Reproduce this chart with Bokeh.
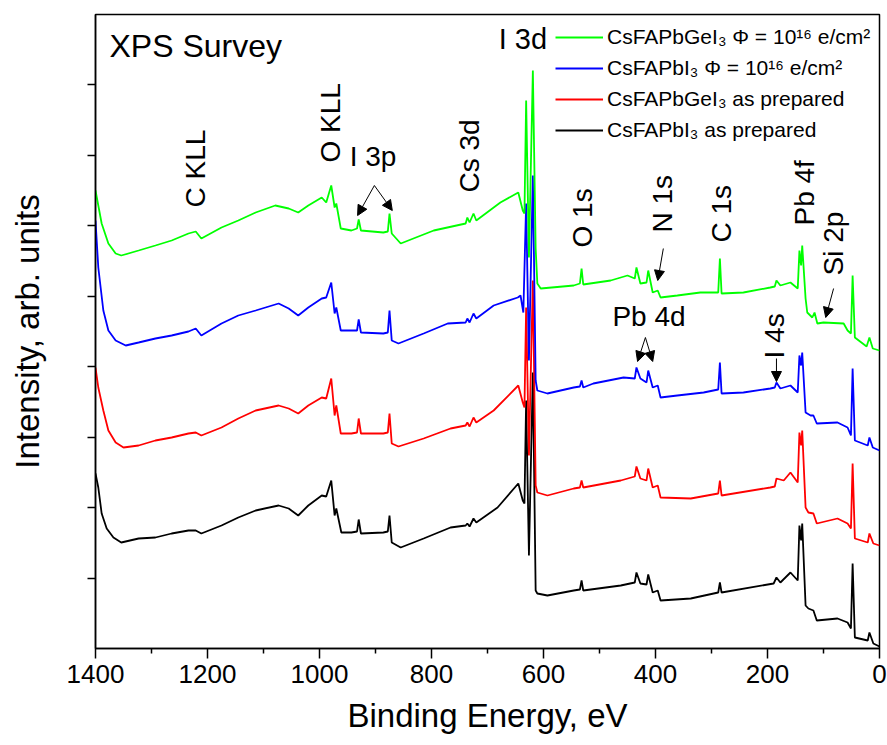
from bokeh.plotting import figure
from bokeh.models import Range1d, FixedTicker, Label, Arrow, NormalHead, Legend, LegendItem
from bokeh.embed import file_html
from bokeh.resources import INLINE

# ---------------- data ----------------
# binding energy (eV) / intensity (arb. units, vertically offset spectra)
be_green = [1400, 1389, 1377, 1364, 1354, 1323, 1293, 1264, 1234, 1221, 1211, 1175, 1145, 1114, 1079,
            1055, 1038, 1020, 996, 988, 979, 973, 970, 962, 943, 933, 930, 926, 886, 878, 875, 871, 855,
            796, 739, 736, 732, 725, 720, 677, 645, 637, 634, 631, 626, 619, 614, 611, 605, 546, 535,
            532, 529, 480, 450, 437, 434, 427, 416, 413, 405, 396, 391, 361, 320, 288, 285, 282, 243,
            195, 187, 184, 177, 159, 146, 143, 140, 138, 132, 129, 120, 116, 111, 100, 64, 57, 51, 48,
            44, 23, 18, 12, 0]
int_green = [458, 425, 405, 395, 393, 398, 403, 408, 415, 417, 410, 421, 428, 436, 443,
             440, 436, 443, 451, 446, 463, 441, 445, 420, 418, 420, 429, 418, 416, 417, 435, 415, 405,
             418, 425, 431, 426, 435, 428, 446, 456, 438, 435, 548, 391, 578, 400, 365, 360, 363, 365,
             380, 364, 368, 373, 370, 381, 365, 366, 378, 356, 358, 351, 353, 356, 356, 390, 355, 356,
             361, 362, 368, 363, 366, 360, 398, 383, 403, 350, 336, 331, 336, 325, 326, 325, 318, 315, 373,
             311, 302, 311, 300, 298]

be_blue = [1400, 1395, 1386, 1377, 1364, 1346, 1323, 1293, 1264, 1234, 1221, 1211, 1175, 1145, 1114,
           1073, 1055, 1038, 1020, 996, 988, 979, 973, 970, 962, 943, 933, 930, 926, 886, 878, 875, 871,
           859, 814, 771, 739, 736, 732, 725, 720, 689, 646, 641, 636, 631, 626, 619, 614, 611, 593, 546,
           535, 532, 529, 511, 457, 437, 434, 427, 416, 413, 405, 396, 391, 361, 314, 288, 285, 282, 243,
           195, 187, 184, 177, 159, 146, 143, 140, 138, 132, 123, 118, 112, 75, 57, 51, 48, 44, 21, 18,
           12, 0]
int_blue = [428, 381, 338, 318, 308, 303, 306, 310, 313, 317, 320, 313, 325, 333, 338,
            345, 340, 333, 341, 350, 351, 366, 335, 341, 318, 318, 318, 329, 316, 315, 316, 338, 308,
            305, 315, 325, 326, 330, 326, 335, 330, 343, 351, 353, 336, 445, 288, 473, 268, 258, 255, 261,
            262, 268, 261, 265, 271, 270, 281, 270, 266, 278, 261, 263, 251, 253, 256, 259, 286, 255, 256,
            260, 261, 266, 260, 263, 256, 293, 283, 296, 236, 233, 233, 225, 226, 221, 213, 280, 208, 203, 211,
            201, 198]

be_red = [1400, 1395, 1386, 1377, 1364, 1350, 1323, 1293, 1264, 1234, 1221, 1211, 1175, 1145, 1114,
          1073, 1055, 1038, 1020, 996, 988, 979, 973, 970, 962, 943, 933, 930, 926, 886, 878, 875, 871,
          859, 814, 766, 739, 736, 732, 725, 720, 689, 645, 637, 634, 631, 626, 619, 614, 611, 593, 546,
          535, 532, 529, 462, 437, 434, 427, 416, 413, 405, 396, 391, 337, 288, 285, 282, 195, 187, 184,
          171, 159, 146, 143, 140, 138, 132, 127, 118, 112, 75, 57, 51, 48, 44, 21, 18, 11, 0]
int_red = [281, 261, 238, 218, 206, 201, 203, 208, 211, 215, 216, 213, 221, 230, 238,
           243, 240, 235, 243, 251, 250, 270, 233, 243, 215, 215, 216, 230, 215, 215, 216, 235, 205,
           202, 210, 220, 223, 226, 222, 231, 226, 238, 263, 246, 241, 341, 193, 368, 163, 156, 153, 160,
           161, 168, 161, 168, 172, 182, 170, 168, 180, 161, 163, 151, 150, 155, 168, 153, 161, 162, 170,
           168, 176, 166, 216, 203, 218, 141, 136, 135, 125, 130, 125, 120, 185, 110, 106, 115, 105, 103]

be_black = [1400, 1395, 1389, 1380, 1368, 1354, 1323, 1293, 1264, 1234, 1221, 1211, 1175, 1145, 1114,
            1073, 1055, 1038, 1020, 996, 988, 979, 973, 970, 961, 943, 933, 930, 926, 886, 878, 875, 871,
            855, 814, 766, 739, 736, 732, 725, 720, 682, 645, 637, 634, 631, 626, 619, 614, 611, 593, 546,
            535, 532, 529, 462, 437, 434, 427, 416, 413, 405, 396, 391, 337, 288, 285, 282, 189, 184, 177,
            159, 146, 143, 140, 138, 132, 127, 118, 112, 75, 57, 51, 48, 44, 21, 18, 11, 0]
int_black = [175, 161, 135, 120, 111, 106, 110, 111, 115, 118, 118, 115, 123, 131, 138,
             143, 140, 133, 143, 153, 152, 168, 133, 140, 116, 116, 117, 129, 115, 116, 117, 133, 106,
             101, 110, 121, 123, 125, 122, 130, 126, 141, 165, 148, 145, 248, 93, 276, 58, 55, 53, 58,
             59, 68, 58, 63, 66, 76, 65, 64, 74, 56, 58, 48, 50, 56, 66, 56, 65, 71, 66,
             76, 68, 123, 108, 125, 43, 40, 38, 28, 30, 26, 20, 85, 11, 8, 16, 5, 2]

series_labels = ["CsFAPbGeI\u2083 \u03a6 = 10\u00b9\u2076 e/cm\u00b2",
                 "CsFAPbI\u2083 \u03a6 = 10\u00b9\u2076 e/cm\u00b2",
                 "CsFAPbGeI\u2083 as prepared",
                 "CsFAPbI\u2083 as prepared"]

x_ticks = [0, 200, 400, 600, 800, 1000, 1200, 1400]
x_minor = [100, 300, 500, 700, 900, 1100, 1300]
# unlabelled intensity ticks
y_tick_marks = [70.5, 141, 211.5, 282, 352.5, 423, 493.5, 564]

# ---------------- figure ----------------
FONT = "Liberation Sans"

p = figure(width=887, height=745, output_backend="svg", toolbar_location=None,
           x_range=Range1d(1400, 0), y_range=Range1d(0, 634),
           min_border_left=95, min_border_right=8, min_border_top=14, min_border_bottom=97)
p.xgrid.visible = False
p.ygrid.visible = False
p.outline_line_color = "black"
p.outline_line_width = 1.5
p.outline_line_alpha = 1.0
p.background_fill_color = "white"
p.border_fill_color = "white"

xa = p.xaxis[0]
xa.ticker = FixedTicker(ticks=x_ticks, minor_ticks=x_minor)
xa.axis_label = "Binding Energy, eV"
xa.axis_label_text_font = FONT
xa.axis_label_text_font_size = "33px"
xa.axis_label_text_font_style = "normal"
xa.axis_label_text_color = "black"
xa.axis_label_standoff = 11
xa.major_label_text_font = FONT
xa.major_label_text_font_size = "26px"
xa.major_label_text_color = "black"
xa.major_label_standoff = 6
xa.major_tick_out = 10
xa.major_tick_in = 0
xa.minor_tick_out = 5
xa.minor_tick_in = 0
xa.axis_line_width = 1.5
xa.major_tick_line_width = 1.5
xa.minor_tick_line_width = 1.5
xa.axis_line_color = "black"
xa.major_tick_line_color = "black"
xa.minor_tick_line_color = "black"

ya = p.yaxis[0]
ya.ticker = FixedTicker(ticks=[], minor_ticks=y_tick_marks)
ya.axis_label = "Intensity, arb. units"
ya.axis_label_text_font = FONT
ya.axis_label_text_font_size = "33px"
ya.axis_label_text_font_style = "normal"
ya.axis_label_text_color = "black"
ya.axis_label_standoff = 42
ya.major_label_standoff = 5
ya.major_tick_out = 8
ya.major_tick_in = 0
ya.minor_tick_out = 8
ya.minor_tick_in = 0
ya.axis_line_width = 1.5
ya.major_tick_line_width = 1.5
ya.minor_tick_line_width = 1.5
ya.axis_line_color = "black"
ya.major_tick_line_color = "black"
ya.minor_tick_line_color = "black"

LW = 1.8
r_black = p.line(be_black, int_black, line_color="#000000", line_width=LW)
r_red = p.line(be_red, int_red, line_color="#ff0000", line_width=LW)
r_blue = p.line(be_blue, int_blue, line_color="#0000ff", line_width=LW)
r_green = p.line(be_green, int_green, line_color="#00ff00", line_width=LW)

legend = Legend(items=[LegendItem(label=series_labels[0], renderers=[r_green]),
                       LegendItem(label=series_labels[1], renderers=[r_blue]),
                       LegendItem(label=series_labels[2], renderers=[r_red]),
                       LegendItem(label=series_labels[3], renderers=[r_black])],
                location=(460, 506), label_text_font=FONT, label_text_font_size="21px",
                label_text_color="black", glyph_width=48, glyph_height=24, label_height=24,
                label_standoff=4, spacing=7, padding=0, margin=0,
                border_line_color=None, background_fill_alpha=0)
p.add_layout(legend)

# ---------------- peak annotations ----------------
vertical_notes = [("C KLL", 1222, 441), ("O KLL", 981, 486), ("Cs 3d", 732, 456),
                  ("O 1s", 530, 401), ("N 1s", 387, 416), ("C 1s", 282, 406),
                  ("Pb 4f", 134, 423), ("Si 2p", 83, 373), ("I 4s", 187, 290)]
for txt, ex, iy in vertical_notes:
    p.add_layout(Label(x=ex, y=iy, text=txt, angle=90, angle_units="deg",
                       text_align="left", text_baseline="middle", text_font=FONT,
                       text_font_size="28px", text_color="black"))

horizontal_notes = [("I 3p", 946, 492, "28px"), ("Pb 4d", 477, 332, "28px"),
                    ("I 3d", 680, 610, "29px"), ("XPS Survey", 1375, 603, "32px")]
for txt, ex, iy, fs in horizontal_notes:
    p.add_layout(Label(x=ex, y=iy, text=txt, text_align="left", text_baseline="alphabetic",
                       text_font=FONT, text_font_size=fs, text_color="black"))

arrows = [(902, 463, 932, 433), (902, 463, 870, 438), (386, 400, 396, 368),
          (82, 360, 96, 331), (418, 311, 432, 287), (418, 311, 405, 287), (184, 290, 184, 267)]
for xs, ys, xe, ye in arrows:
    p.add_layout(Arrow(end=NormalHead(size=10, fill_color="black", line_color="black", line_width=1),
                       x_start=xs, y_start=ys, x_end=xe, y_end=ye,
                       line_color="black", line_width=1))

open("out.html", "w").write(file_html(p, INLINE))
